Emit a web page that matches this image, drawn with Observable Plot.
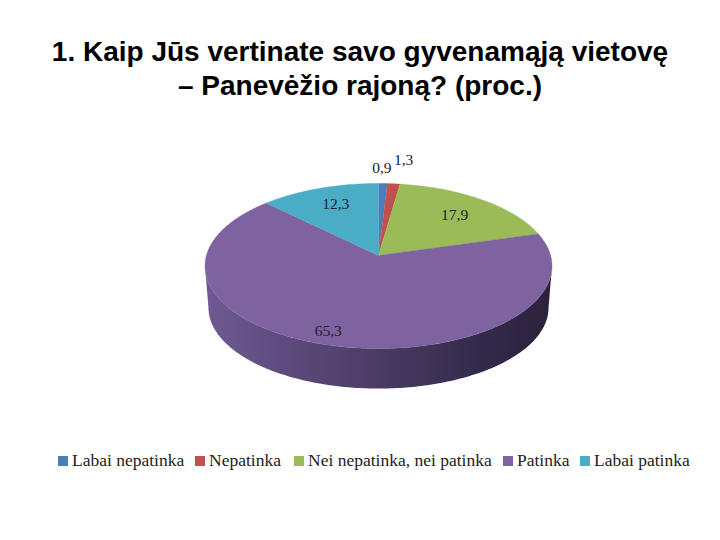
<!DOCTYPE html>
<html>
<head>
<meta charset="utf-8">
<script src="https://cdn.jsdelivr.net/npm/d3@7"></script>
<script src="https://cdn.jsdelivr.net/npm/@observablehq/plot@0.6"></script>
<style>
html,body{margin:0;padding:0;background:#fff;width:720px;height:540px;overflow:hidden}
#title{height:115px;box-sizing:border-box;padding-top:35px;text-align:center;font:bold 28px/34px "Liberation Sans",Arial,sans-serif;color:#000}
#chart{height:320px}
#chart svg{display:block}
#legend{position:relative;height:30px;margin-top:13px;font:17.5px/20px "Liberation Serif",serif;color:#222}
#legend span.item{position:absolute;top:2px;white-space:nowrap}
#legend i{display:inline-block;width:10px;height:10px;margin-right:4px}
</style>
</head>
<body>
<div id="title"><div>1. Kaip Jūs vertinate savo gyvenamąją vietovę</div><div>– Panevėžio rajoną? (proc.)</div></div>
<div id="chart"></div>
<div id="legend"></div>
<script>
const categories = ["Labai nepatinka", "Nepatinka", "Nei nepatinka, nei patinka", "Patinka", "Labai patinka"];
const values = [0.9, 1.3, 17.9, 65.3, 12.3];
const valueLabels = ["0,9", "1,3", "17,9", "65,3", "12,3"];
const colors = ["#4a7ebb", "#c0504d", "#9bbb59", "#7f63a1", "#4aacc5"];

// layout of the tilted pie
const tilt = 0.1272, depth = 0.516, bottomScale = 0.98;
const labelPlace = [
  {r: 1.25, dx: -2, dy: 0},
  {r: 1.38, dx: 5, dy: -1},
  {r: 0.74, dx: -2, dy: 2},
  {r: 0.90, dx: -7, dy: -4},
  {r: 0.75, dx: 3, dy: 0}
];
const legendLeft = [58, 195, 294, 503, 580];

const project = (a, r = 1, drop = 0, s = 1) => {
  const u = Math.sin(a) * r, v = Math.cos(a) * r, d = 1 + tilt * v;
  return {x: s * u / d, y: s * v / d - drop};
};
const arcs = d3.pie().sort(null).value(d => d)(values);
const deg = Math.PI / 180;

const slicePts = [];
arcs.forEach((arc, i) => {
  const n = Math.max(2, Math.ceil((arc.endAngle - arc.startAngle) / deg));
  slicePts.push({category: categories[i], x: 0, y: 0});
  for (let k = 0; k <= n; ++k) {
    const a = arc.startAngle + (arc.endAngle - arc.startAngle) * k / n;
    slicePts.push({category: categories[i], ...project(a)});
  }
});

const a0 = Math.acos(-tilt), a1 = 2 * Math.PI - a0;
const sweep = d3.range(0, 181).map(k => a0 + (a1 - a0) * k / 180);
const sidePts = [
  ...sweep.map(a => project(a)),
  ...sweep.slice().reverse().map(a => project(a, 1, depth, bottomScale))
];

const sideGradient = () => {
  const defs = d3.create("svg:defs");
  const g = defs.append("linearGradient").attr("id", "side").attr("x1", 0).attr("x2", 1).attr("y1", 0).attr("y2", 0);
  [[0, "#6f5b93"], [0.25, "#5b4a7b"], [0.55, "#463960"], [0.8, "#33294a"], [1, "#2c223d"]]
    .forEach(([o, c]) => g.append("stop").attr("offset", o).attr("stop-color", c));
  return defs.node();
};

const labelMarks = arcs.map((arc, i) => {
  const p = project((arc.startAngle + arc.endAngle) / 2, labelPlace[i].r);
  return Plot.text([valueLabels[i]], {
    x: () => p.x, y: () => p.y, text: d => d,
    dx: labelPlace[i].dx, dy: labelPlace[i].dy,
    fontFamily: "Liberation Serif", fontSize: 15.5, fill: "#1c2230"
  });
});

const chart = Plot.plot({
  width: 720, height: 320, margin: 0,
  x: {axis: null, domain: [-1, 1], range: [378 - 172.1, 378 + 172.1]},
  y: {axis: null, domain: [-1, 1], range: [140 + 81.2, 140 - 81.2]},
  color: {domain: categories, range: colors},
  marks: [
    sideGradient,
    Plot.line(sidePts, {x: "x", y: "y", fill: "url(#side)", stroke: "none"}),
    Plot.line(slicePts, {x: "x", y: "y", z: "category", fill: "category", stroke: "category", strokeWidth: 0.4}),
    ...labelMarks
  ]
});
document.getElementById("chart").appendChild(chart);

const legend = d3.select("#legend");
categories.forEach((c, i) => {
  const item = legend.append("span").attr("class", "item").style("left", legendLeft[i] + "px");
  item.append("i").style("background", colors[i]);
  item.append("span").text(c);
});
</script>
</body>
</html>
